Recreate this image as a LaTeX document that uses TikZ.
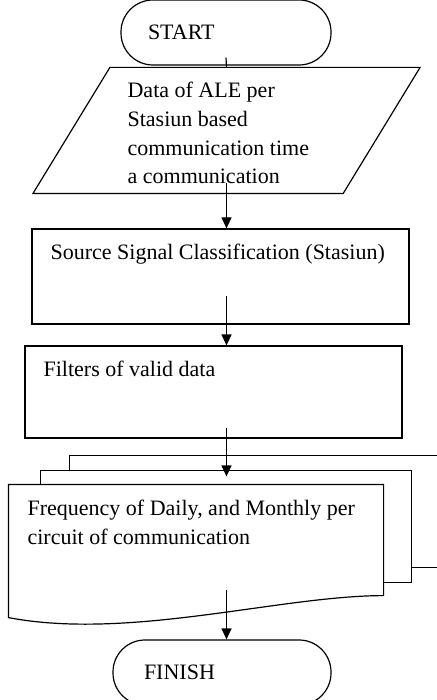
\documentclass[tikz,border=0pt]{standalone}
\usepackage{fontspec}
\setmainfont{Liberation Serif}
\usetikzlibrary{arrows.meta,calc,positioning,shapes.geometric}

\begin{document}
\begin{tikzpicture}[x=1pt,y=-1pt,line width=1.2pt,font=\fontsize{22}{28.8}\selectfont,
  terminal/.style={draw,rounded corners=32pt,minimum height=65pt,text width=156pt,inner xsep=27pt,inner ysep=0pt,align=left},
  procbox/.style={draw,minimum width=377pt,inner sep=0pt},
  lbl/.style={inner sep=0pt,anchor=base west,align=left},
  flow/.style={-{Triangle[length=11pt,width=10pt]}}]
\useasboundingbox (0,0) rectangle (436,700);

% shapes
\node[terminal,minimum width=210pt] (start) at (226,32.5) {START};
\node[minimum width=309pt,minimum height=125pt,inner sep=0pt] (data) at (226.5,130.5) {};
\node[procbox,minimum height=95pt] (classify) at (220.5,276.5) {};
\node[procbox,minimum height=92pt] (filter) at (213.5,392) {};
\node[minimum width=374pt,minimum height=110pt,inner sep=0pt] (freq) at (196,540) {};
\node[terminal,minimum width=218pt] (finish) at (222,672.5) {FINISH};

% input parallelogram
\draw ($(data.north west)+(38.5,0)$) -- ($(data.north east)+(38.5,0)$)
  -- ($(data.south east)+(-38.5,0)$) -- ($(data.south west)+(-38.5,0)$) -- cycle;

% stacked document
\draw ($(freq.south west)+(0,22)$) -- (freq.north west) -- (freq.north east) -- (freq.south east)
  .. controls +(-103,0) and +(121,23) .. ($(freq.south west)+(0,22)$) -- cycle;
\draw ([xshift=32pt]freq.north west) -- ++(0,-14) -| ($(freq.south east)+(28,-13)$) -- ++(-28,0);
\draw ($(freq.north west)+(61,-14)$) -- ++(0,-15) -- ++(380,0);
\draw ($(freq.south east)+(28,-28)$) -- ++(40,0);

% texts (base = last line)
\node[lbl] (data text) at (127,184) {Data of ALE per\\Stasiun based\\communication time\\a communication};
\node[lbl] (classify text) at (50,259) {Source Signal Classification (Stasiun)};
\node[lbl] (filter text) at (43,376) {Filters of valid data};
\node[lbl] (freq text) at (27,544) {Frequency of Daily, and Monthly per\\circuit of communication};

% flow
\draw ([yshift=8pt]start.south) -- (data.north);
\draw[flow] ([yshift=11pt]data.south) -- (data.south |- classify.north);
\draw[flow] ([yshift=29pt]classify.south -| data.south) -- (data.south |- filter.north);
\draw[flow] ([yshift=11pt]filter.south -| data.south) -- ([yshift=8pt]freq.north -| data.south);
\draw[flow] ([yshift=6pt]freq.south -| data.south) -- (data.south |- finish.north);
\end{tikzpicture}
\end{document}
